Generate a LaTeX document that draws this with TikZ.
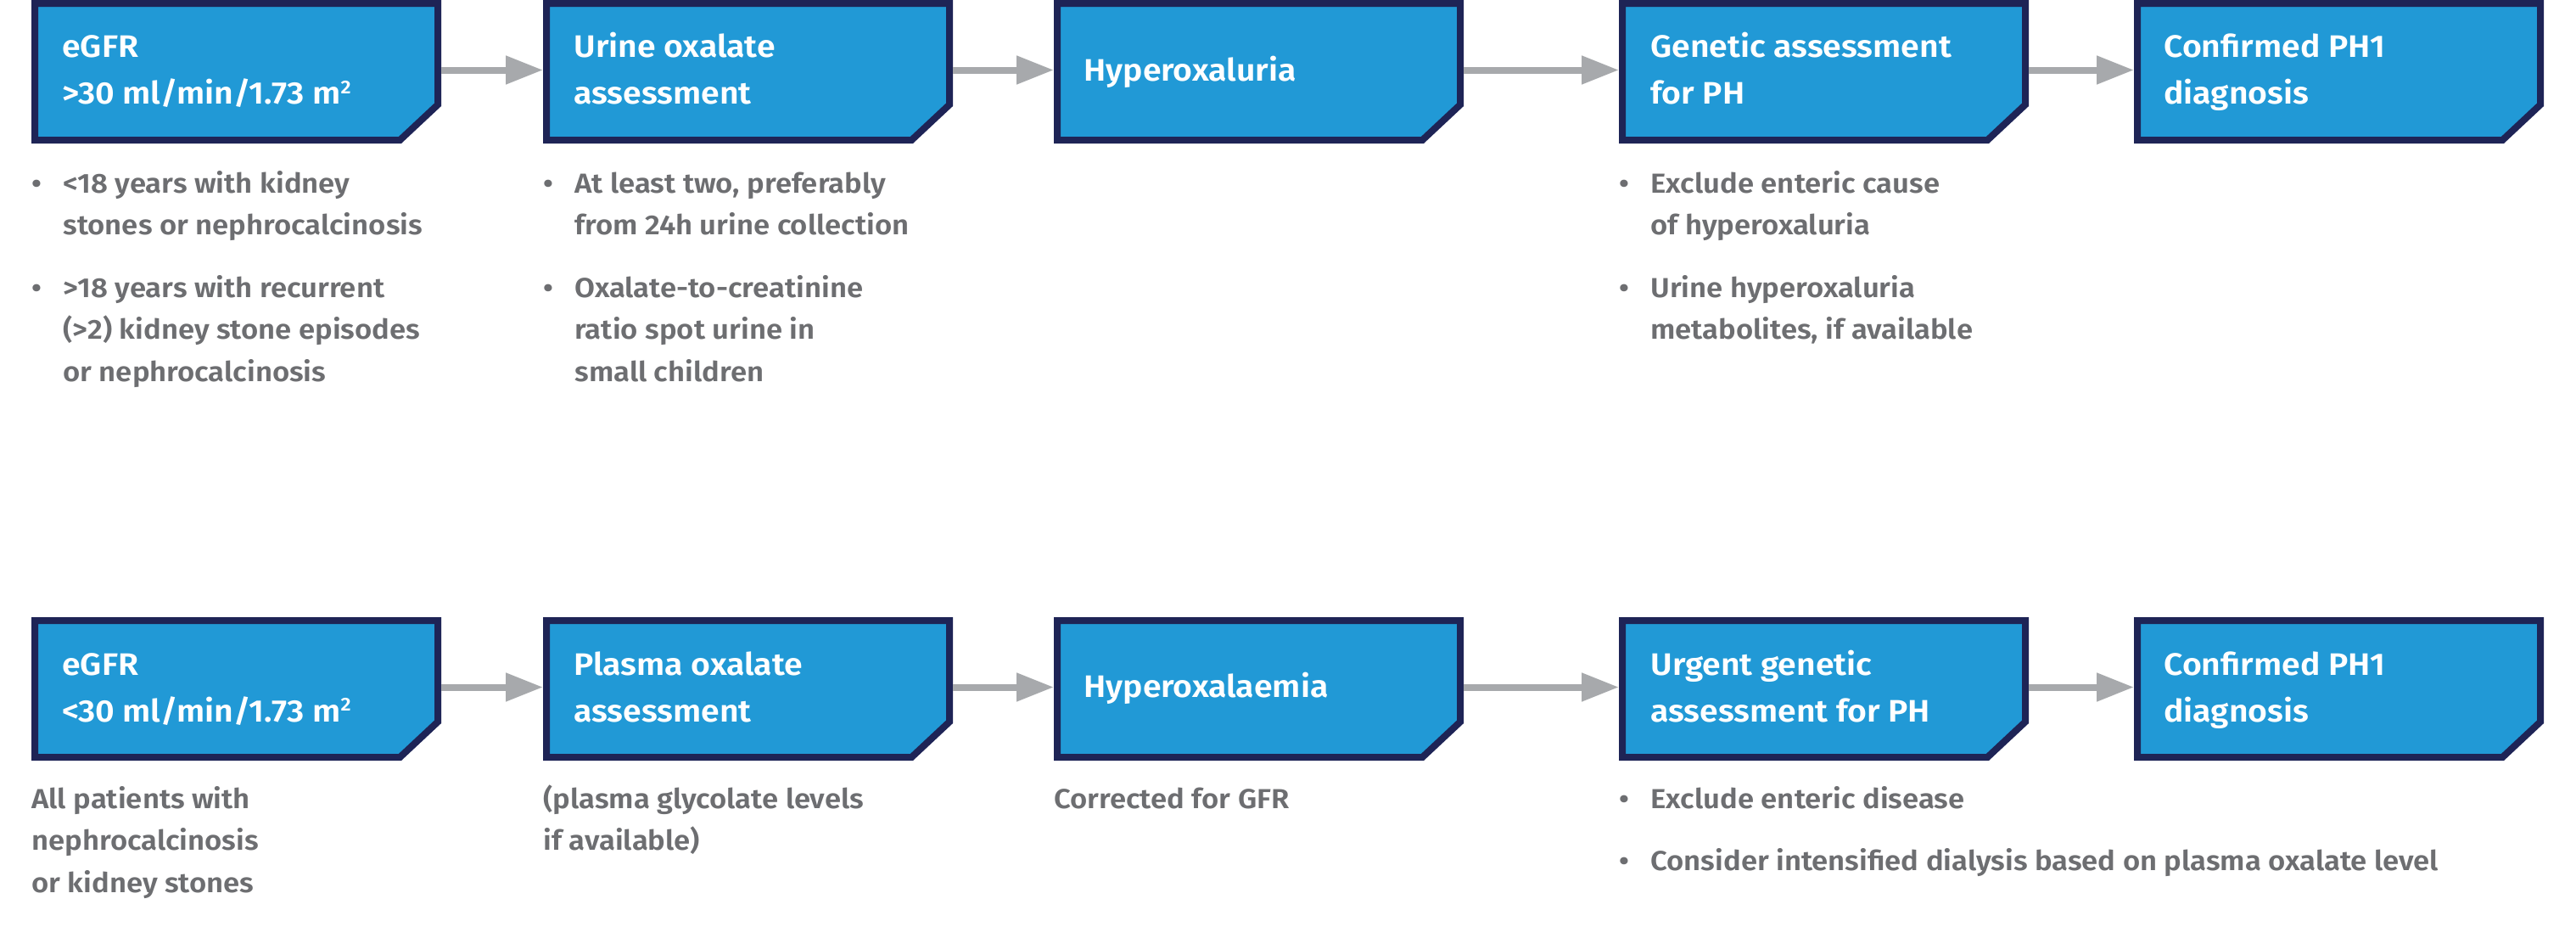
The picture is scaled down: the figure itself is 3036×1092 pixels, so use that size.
\documentclass[tikz,border=0pt]{standalone}
\usepackage{fontspec}
\setmainfont{Fira Sans SemiBold}[FakeStretch=1.07]
\usetikzlibrary{arrows.meta}
\definecolor{boxblue}{HTML}{2199D6}
\definecolor{navy}{HTML}{1E2456}
\definecolor{arrgray}{HTML}{A7A9AC}
\definecolor{txtgray}{HTML}{6D6E71}
\newcommand\lns[1]{\vtop{\halign{##\hfil\cr#1\crcr}}}
\newcommand\bl{\hbox to 18.5pt{\textbullet\hfil}}
\newcommand\nb{\hbox to 18.5pt{}}
\newcommand\sq{\raisebox{0.62ex}{\fontsize{11}{11}\selectfont 2}}
\newcommand\drawbox[1]{\draw[boxline] ([shift={(4,4)}]#1.north west) -- ([shift={(-4,4)}]#1.north east) -- ([shift={(-4,-45.7)}]#1.south east) -- ([shift={(-48.6,-4)}]#1.south east) -- ([shift={(4,-4)}]#1.south west) -- cycle;}
\tikzset{
  boxn/.style={rectangle, minimum width=241.5pt, minimum height=84.5pt, inner sep=0pt, outer sep=0pt},
  boxline/.style={draw=navy, fill=boxblue, line width=4pt, line join=miter},
  title/.style={anchor=base west, inner sep=0pt, text=white, font=\fontsize{18.3}{27.5}\selectfont},
  txt/.style={anchor=base west, inner sep=0pt, text=txtgray, font=\fontsize{16.2}{24.75}\selectfont},
  arr/.style={draw=arrgray, line width=4pt, -{Triangle[length=22pt,width=16pt]}}
}
\begin{document}
\begin{tikzpicture}[x=0.5pt,y=-0.5pt]
\useasboundingbox[fill=white] (0,0) rectangle (3036,1092);
% top row boxes
\node[boxn] (b1) at (278.5,84.5) {};
\node[boxn] (b2) at (881.5,84.5) {};
\node[boxn] (b3) at (1483.5,84.5) {};
\node[boxn] (b4) at (2149.5,84.5) {};
\node[boxn] (b5) at (2756.5,84.5) {};
% bottom row boxes
\node[boxn] (c1) at (278.5,811.5) {};
\node[boxn] (c2) at (881.5,811.5) {};
\node[boxn] (c3) at (1483.5,811.5) {};
\node[boxn] (c4) at (2149.5,811.5) {};
\node[boxn] (c5) at (2756.5,811.5) {};
\drawbox{b1}\drawbox{b2}\drawbox{b3}\drawbox{b4}\drawbox{b5}
\drawbox{c1}\drawbox{c2}\drawbox{c3}\drawbox{c4}\drawbox{c5}
% titles
\node[title] (tb1) at (73,68) {\lns{eGFR\cr >30 ml/min/1.73 m\sq}};
\node[title] (tb2) at (676,68) {\lns{Urine oxalate\cr assessment}};
\node[title] (tb3) at (1277,95) {Hyperoxaluria};
\node[title] (tb4) at (1945,68) {\lns{Genetic assessment\cr for PH}};
\node[title] (tb5) at (2550,68) {\lns{Confirmed PH1\cr diagnosis}};
\node[title] (tc1) at (73,795) {\lns{eGFR\cr <30 ml/min/1.73 m\sq}};
\node[title] (tc2) at (676,795) {\lns{Plasma oxalate\cr assessment}};
\node[title] (tc3) at (1277,821) {Hyperoxalaemia};
\node[title] (tc4) at (1945,795) {\lns{Urgent genetic\cr assessment for PH}};
\node[title] (tc5) at (2550,795) {\lns{Confirmed PH1\cr diagnosis}};
% arrows
\draw[arr] ([yshift=1pt]b1.east) -- ([yshift=1pt]b2.west);
\draw[arr] ([yshift=1pt]b2.east) -- ([yshift=1pt]b3.west);
\draw[arr] ([yshift=1pt]b3.east) -- ([yshift=1pt]b4.west);
\draw[arr] ([yshift=1pt]b4.east) -- ([yshift=1pt]b5.west);
\draw[arr] ([yshift=1pt]c1.east) -- ([yshift=1pt]c2.west);
\draw[arr] ([yshift=1pt]c2.east) -- ([yshift=1pt]c3.west);
\draw[arr] ([yshift=1pt]c3.east) -- ([yshift=1pt]c4.west);
\draw[arr] ([yshift=1pt]c4.east) -- ([yshift=1pt]c5.west);
% top row notes
\node[txt] (n1a) at (37,227) {\lns{\bl <18 years with kidney\cr\nb stones or nephrocalcinosis}};
\node[txt] (n1b) at (37,350) {\lns{\bl >18 years with recurrent\cr\nb (>2) kidney stone episodes\cr\nb or nephrocalcinosis}};
\node[txt] (n2a) at (640,227) {\lns{\bl At least two, preferably\cr\nb from 24h urine collection}};
\node[txt] (n2b) at (640,350) {\lns{\bl Oxalate-to-creatinine\cr\nb ratio spot urine in\cr\nb small children}};
\node[txt] (n4a) at (1908,227) {\lns{\bl Exclude enteric cause\cr\nb of hyperoxaluria}};
\node[txt] (n4b) at (1908,350) {\lns{\bl Urine hyperoxaluria\cr\nb metabolites, if available}};
% bottom row notes
\node[txt] (m1) at (37,952) {\lns{All patients with\cr nephrocalcinosis\cr or kidney stones}};
\node[txt] (m2) at (640,952) {\lns{(plasma glycolate levels\cr if available)}};
\node[txt] (m3) at (1242,952) {Corrected for GFR};
\node[txt] (m4a) at (1908,952) {\lns{\bl Exclude enteric disease}};
\node[txt] (m4b) at (1908,1025) {\lns{\bl Consider intensified dialysis based on plasma oxalate level}};
\end{tikzpicture}
\end{document}
